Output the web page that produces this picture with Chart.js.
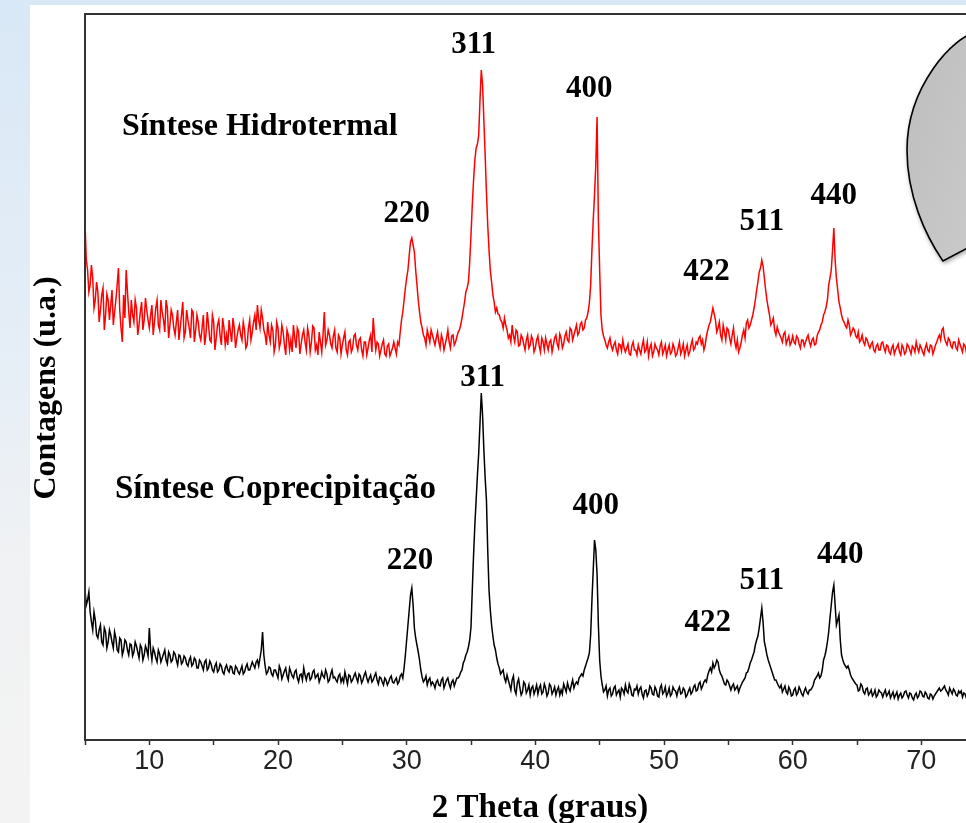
<!DOCTYPE html>
<html>
<head>
<meta charset="utf-8">
<script src="https://cdn.jsdelivr.net/npm/chart.js@4.4.1/dist/chart.umd.min.js"></script>
<style>
  html, body { margin: 0; padding: 0; }
  body {
    width: 966px; height: 823px; overflow: hidden; position: relative;
    background: linear-gradient(to bottom, #d9e8f6 0%, #e6eef6 45%, #f1f2f3 70%, #f3f3f3 100%);
  }
  #panel { position: absolute; left: 30px; top: 5px; width: 960px; height: 830px; background: #fff; }
  #chart { position: absolute; left: 0; top: 0; }
  #bubble { position: absolute; left: 0; top: 0; }
</style>
</head>
<body>
<div id="panel"></div>
<canvas id="chart" width="1070" height="823"></canvas>
<svg id="bubble" width="966" height="823">
  <defs>
    <linearGradient id="g" x1="0" y1="0" x2="1" y2="1">
      <stop offset="0" stop-color="#bdbdbd"/>
      <stop offset="1" stop-color="#cacaca"/>
    </linearGradient>
    <filter id="sh" x="-20%" y="-20%" width="140%" height="140%">
      <feDropShadow dx="1" dy="2" stdDeviation="2" flood-color="#000" flood-opacity="0.35"/>
    </filter>
  </defs>
  <path d="M 975 33 C 955 36, 907 85, 907 150 C 907 195, 925 235, 943 261 L 975 244 Z"
        fill="url(#g)" stroke="#000" stroke-width="1.6" filter="url(#sh)"/>
</svg>

<script>
// 2 theta grid (degrees): 5.0 .. 74.0 in 0.1 steps
const startAngle = 5;
const stepAngle = 0.1;

// counts (a.u.), one row per degree
// *Even: readings at x.0, x.2, x.4, x.6, x.8
// *Odd:  readings at x.1, x.3, x.5, x.7, x.9
const hidrotermalEven = [
  517, 470, 455, 462, 440,
  448, 430, 452, 425, 440,
  435, 415, 440, 472, 412,
  445, 470, 428, 440, 418,
  432, 415, 438, 420, 430,
  412, 435, 418, 440, 410,
  428, 408, 432, 415, 425,
  405, 430, 412, 438, 408,
  420, 402, 428, 410, 418,
  400, 425, 405, 415, 398,
  418, 402, 420, 395, 412,
  405, 420, 398, 412, 402,
  415, 400, 410, 395, 420,
  408, 425, 435, 412, 422,
  405, 418, 398, 410, 395,
  412, 398, 408, 385, 405,
  400, 415, 392, 408, 396,
  410, 390, 405, 398, 412,
  395, 408, 388, 428, 400,
  405, 392, 410, 388, 402,
  395, 408, 385, 400, 392,
  406, 390, 402, 384, 398,
  392, 405, 422, 390, 396,
  390, 400, 384, 396, 388,
  398, 386, 395, 420, 440,
  462, 485, 502, 488, 455,
  428, 412, 402, 410, 398,
  405, 395, 408, 392, 400,
  396, 410, 392, 405, 398,
  408, 415, 430, 448, 458,
  505, 560, 592, 605, 670,
  620, 548, 490, 458, 438,
  432, 425, 418, 422, 410,
  405, 415, 398, 408, 395,
  402, 390, 405, 395, 400,
  392, 404, 388, 398, 402,
  390, 400, 395, 405, 392,
  402, 396, 408, 398, 410,
  405, 415, 408, 418, 412,
  422, 437, 490, 545, 623,
  470, 410, 400, 392, 402,
  390, 398, 386, 395, 400,
  388, 396, 385, 398, 390,
  395, 386, 400, 390, 384,
  396, 388, 392, 385, 398,
  390, 384, 395, 388, 392,
  386, 398, 390, 384, 395,
  388, 400, 392, 396, 404,
  400, 395, 410, 418, 432,
  420, 412, 405, 415, 400,
  410, 396, 412, 392, 388,
  398, 410, 417, 412, 420,
  432, 450, 468, 480, 462,
  440, 425, 418, 410, 413,
  405, 398, 408, 400, 395,
  404, 396, 402, 392, 400,
  398, 405, 394, 402, 396,
  408, 415, 425, 433, 455,
  470, 512, 462, 438, 425,
  418, 412, 415, 408, 410,
  402, 398, 405, 395, 400,
  392, 398, 388, 396, 390,
  398, 388, 394, 386, 395,
  390, 396, 385, 392, 388,
  394, 386, 392, 398, 388,
  392, 385, 396, 388, 394,
  390, 398, 405, 410, 402,
  395, 400, 392, 398, 390,
  396, 388, 394, 390, 395,
  392
];

const hidrotermalOdd = [
  480, 448, 475, 432, 458,
  418, 445, 410, 446, 420,
  450, 428, 455, 430, 398,
  422, 448, 412, 425, 440,
  405, 428, 410, 442, 420,
  425, 405, 432, 415, 440,
  420, 440, 402, 430, 412,
  418, 400, 425, 402, 430,
  412, 430, 398, 425, 405,
  412, 395, 428, 400, 425,
  390, 415, 404, 422, 395,
  395, 408, 422, 392, 410,
  405, 418, 392, 412, 400,
  418, 410, 420, 430, 410,
  395, 405, 415, 388, 418,
  392, 415, 395, 410, 390,
  388, 402, 412, 386, 405,
  398, 412, 388, 414, 390,
  385, 398, 405, 395, 410,
  396, 404, 392, 405, 386,
  402, 390, 398, 388, 404,
  395, 400, 390, 398, 385,
  400, 388, 404, 398, 384,
  396, 386, 394, 384, 392,
  392, 398, 408, 428, 452,
  470, 498, 495, 470, 440,
  418, 405, 395, 404, 410,
  400, 402, 398, 405, 390,
  402, 398, 404, 395, 403,
  410, 422, 438, 452, 478,
  535, 580, 596, 640, 655,
  585, 515, 470, 445, 428,
  426, 420, 412, 415, 402,
  398, 404, 410, 394, 405,
  396, 400, 392, 404, 388,
  400, 394, 402, 390, 396,
  398, 388, 402, 396, 406,
  392, 404, 400, 412, 400,
  410, 405, 416, 410, 420,
  428, 455, 520, 575, 520,
  425, 404, 395, 398, 394,
  395, 390, 396, 389, 392,
  392, 386, 394, 390, 385,
  390, 394, 388, 398, 392,
  384, 396, 390, 394, 386,
  395, 390, 386, 396, 384,
  392, 386, 396, 390, 385,
  395, 390, 398, 402, 396,
  390, 404, 415, 425, 426,
  408, 418, 400, 408, 412,
  402, 405, 398, 400, 392,
  405, 402, 420, 415, 425,
  440, 458, 472, 474, 450,
  432, 415, 422, 405, 408,
  402, 406, 396, 404, 398,
  398, 404, 396, 400, 394,
  402, 398, 400, 395, 404,
  410, 418, 428, 440, 462,
  490, 480, 450, 432, 420,
  414, 420, 405, 412, 404,
  408, 400, 398, 402, 395,
  396, 390, 394, 390, 397,
  392, 395, 388, 392, 386,
  393, 388, 395, 386, 396,
  390, 394, 388, 392, 395,
  388, 392, 390, 395, 386,
  395, 402, 400, 412, 398,
  402, 394, 398, 392, 400,
  392, 396, 388, 398, 390
];

const coprecipitacaoEven = [
  150, 140, 128, 110, 120,
  102, 115, 95, 108, 98,
  105, 92, 102, 88, 100,
  90, 98, 85, 95, 88,
  94, 82, 92, 85, 90,
  112, 80, 88, 78, 86,
  82, 90, 76, 85, 80,
  86, 75, 84, 78, 82,
  74, 83, 76, 80, 72,
  78, 70, 80, 72, 76,
  68, 77, 70, 74, 66,
  75, 68, 73, 66, 72,
  66, 74, 68, 76, 70,
  78, 72, 80, 82, 108,
  74, 68, 72, 64, 70,
  62, 70, 65, 72, 60,
  68, 62, 70, 58, 66,
  72, 60, 67, 62, 70,
  64, 58, 68, 62, 66,
  60, 70, 63, 58, 66,
  62, 68, 56, 64, 60,
  67, 58, 64, 60, 68,
  58, 65, 60, 67, 56,
  62, 55, 60, 58, 64,
  57, 62, 58, 66, 72,
  100, 130, 152, 112, 95,
  80, 63, 60, 55, 62,
  58, 52, 60, 54, 62,
  56, 62, 52, 60, 58,
  62, 68, 77, 85, 93,
  113, 185, 240, 287, 347,
  290, 240, 150, 115, 95,
  82, 72, 68, 62, 65,
  55, 60, 50, 57, 52,
  48, 56, 50, 45, 54,
  50, 46, 55, 48, 52,
  47, 54, 49, 45, 53,
  50, 56, 48, 52, 55,
  52, 58, 62, 66, 70,
  78, 87, 140, 200, 165,
  80, 55, 50, 44, 52,
  46, 54, 48, 43, 50,
  55, 47, 52, 44, 50,
  46, 53, 42, 50, 47,
  52, 45, 50, 43, 55,
  48, 44, 52, 46, 50,
  44, 53, 47, 50, 45,
  52, 48, 55, 50, 58,
  54, 60, 65, 72, 77,
  75, 78, 66, 60, 55,
  58, 50, 56, 52, 48,
  55, 60, 67, 72, 80,
  88, 100, 112, 132, 98,
  85, 76, 68, 60, 57,
  52, 48, 54, 46, 50,
  45, 52, 47, 50, 44,
  52, 46, 50, 55, 62,
  67, 64, 80, 90, 108,
  135, 155, 115, 125, 85,
  76, 72, 70, 62, 58,
  55, 50, 54, 46, 52,
  47, 44, 50, 45, 48,
  43, 50, 46, 42, 48,
  45, 41, 47, 44, 49,
  42, 46, 40, 47, 44,
  48, 43, 46, 41, 45,
  44, 48, 52, 50, 54,
  48, 52, 46, 49, 44,
  47, 43, 46, 44, 48,
  45
];

const coprecipitacaoOdd = [
  135, 148, 118, 128, 105,
  110, 98, 112, 92, 110,
  98, 108, 90, 102, 85,
  100, 90, 96, 84, 98,
  88, 95, 80, 94, 84,
  90, 92, 82, 90, 78,
  86, 80, 88, 78, 88,
  80, 85, 76, 84, 76,
  80, 74, 82, 72, 80,
  74, 78, 70, 79, 70,
  74, 68, 76, 68, 72,
  70, 74, 67, 74, 68,
  70, 66, 73, 70, 74,
  75, 78, 74, 90, 85,
  66, 73, 66, 70, 66,
  74, 61, 69, 64, 72,
  64, 68, 62, 65, 60,
  65, 66, 60, 68, 62,
  66, 62, 64, 70, 58,
  66, 62, 60, 64, 58,
  58, 62, 65, 58, 64,
  62, 66, 57, 65, 62,
  62, 58, 64, 60, 63,
  58, 62, 55, 62, 58,
  60, 56, 64, 62, 85,
  115, 145, 135, 102, 88,
  70, 58, 64, 60, 55,
  56, 58, 55, 60, 52,
  60, 56, 58, 54, 62,
  64, 70, 80, 88, 100,
  150, 215, 265, 317, 325,
  262, 190, 130, 104, 90,
  76, 66, 70, 58, 60,
  50, 64, 46, 61, 45,
  58, 47, 55, 52, 46,
  55, 52, 46, 56, 44,
  56, 46, 53, 50, 45,
  46, 52, 57, 49, 60,
  56, 56, 64, 64, 74,
  82, 105, 170, 190, 115,
  64, 48, 54, 50, 44,
  52, 45, 50, 52, 46,
  49, 56, 45, 51, 54,
  51, 46, 49, 44, 54,
  46, 53, 44, 52, 46,
  53, 47, 44, 53, 49,
  50, 46, 52, 43, 49,
  46, 53, 49, 56, 51,
  58, 58, 69, 68, 72,
  80, 70, 64, 56, 60,
  54, 54, 50, 54, 52,
  58, 62, 68, 77, 84,
  95, 104, 122, 118, 92,
  80, 72, 64, 60, 54,
  55, 51, 48, 53, 44,
  50, 45, 53, 46, 49,
  48, 50, 52, 60, 64,
  62, 70, 84, 98, 122,
  148, 135, 120, 100, 80,
  74, 74, 65, 60, 56,
  49, 56, 48, 51, 45,
  50, 46, 43, 50, 47,
  47, 44, 49, 45, 42,
  48, 45, 42, 48, 45,
  47, 42, 45, 42, 49,
  44, 48, 42, 46, 41,
  46, 50, 49, 52, 50,
  45, 49, 51, 45, 49,
  49, 47, 42, 49, 44
];

// Miller index labels and where they sit (2 theta, counts)
const peakLabels = ['220', '311', '400', '422', '511', '440'];
const hidroLabelX = [30.0, 35.2, 44.2, 53.3, 57.6, 63.2];
const hidroLabelY = [526, 695, 651, 468, 518, 544];
const coprecLabelX = [30.25, 35.9, 44.7, 53.4, 57.6, 63.7];
const coprecLabelY = [179, 362, 234, 117, 159, 185];

// sample names (left edge in 2 theta, baseline in counts)
const sampleNames = ['Síntese Hidrotermal', 'Síntese Coprecipitação'];
const sampleX = [7.87, 7.33];
const sampleY = [605, 242];
const sampleFont = [32, 33];

// put the two reading sets back in angle order
const merge = (even, odd) => {
  const out = [];
  even.forEach((v, i) => {
    out.push(v);
    if (i < odd.length) out.push(odd[i]);
  });
  return out;
};
const hidrotermal = merge(hidrotermalEven, hidrotermalOdd);
const coprecipitacao = merge(coprecipitacaoEven, coprecipitacaoOdd);

const twoTheta = hidrotermal.map((_, i) => +(startAngle + i * stepAngle).toFixed(1));
const toPoints = (values) => values.map((v, i) => ({ x: twoTheta[i], y: v }));

const serif = '"Liberation Serif", "Times New Roman", serif';

// box around the plot area
const framePlugin = {
  id: 'frame',
  afterDatasetsDraw(chart) {
    const { ctx, chartArea } = chart;
    ctx.save();
    ctx.strokeStyle = '#333';
    ctx.lineWidth = 2;
    ctx.strokeRect(chartArea.left, chartArea.top, chartArea.right - chartArea.left, chartArea.bottom - chartArea.top);
    ctx.restore();
  }
};

// peak indices and sample names
const labelsPlugin = {
  id: 'peakLabels',
  afterDatasetsDraw(chart) {
    const { ctx, scales: { x, y } } = chart;
    ctx.save();
    ctx.fillStyle = '#000';
    ctx.font = 'bold 31px ' + serif;
    ctx.textAlign = 'center';
    ctx.textBaseline = 'middle';
    peakLabels.forEach((t, i) => {
      ctx.fillText(t, x.getPixelForValue(hidroLabelX[i]), y.getPixelForValue(hidroLabelY[i]));
      ctx.fillText(t, x.getPixelForValue(coprecLabelX[i]), y.getPixelForValue(coprecLabelY[i]));
    });
    ctx.textAlign = 'left';
    ctx.textBaseline = 'alphabetic';
    sampleNames.forEach((t, i) => {
      ctx.font = 'bold ' + sampleFont[i] + 'px ' + serif;
      ctx.fillText(t, x.getPixelForValue(sampleX[i]), y.getPixelForValue(sampleY[i]));
    });
    ctx.restore();
  }
};

// axis titles: y rotated at the left, x centred under the visible part
const titlesPlugin = {
  id: 'titles',
  afterDraw(chart) {
    const { ctx } = chart;
    ctx.save();
    ctx.fillStyle = '#000';
    ctx.textAlign = 'center';
    ctx.textBaseline = 'middle';
    ctx.font = 'bold 33px ' + serif;
    ctx.fillText('2 Theta (graus)', 540, 808);
    ctx.translate(47, 388);
    ctx.rotate(-Math.PI / 2);
    ctx.font = 'bold 32px ' + serif;
    ctx.fillText('Contagens (u.a.)', 0, 0);
    ctx.restore();
  }
};

const ctx = document.getElementById('chart').getContext('2d');
new Chart(ctx, {
  type: 'line',
  data: {
    datasets: [
      {
        label: 'Síntese Hidrotermal',
        data: toPoints(hidrotermal),
        borderColor: '#ff0000',
        borderWidth: 1.5,
        pointRadius: 0,
        tension: 0,
      },
      {
        label: 'Síntese Coprecipitação',
        data: toPoints(coprecipitacao),
        borderColor: '#000000',
        borderWidth: 1.5,
        pointRadius: 0,
        tension: 0,
      },
    ],
  },
  options: {
    responsive: false,
    animation: false,
    devicePixelRatio: 1,
    layout: { padding: { left: 85, top: 14, right: 20, bottom: 0 } },
    plugins: {
      legend: { display: false },
      tooltip: { enabled: false },
    },
    scales: {
      x: {
        type: 'linear',
        min: 5,
        max: 80,
        afterFit: (axis) => { axis.height = 83; },
        ticks: {
          stepSize: 5,
          padding: 0,
          color: '#222',
          font: { family: '"Liberation Sans", Arial, sans-serif', size: 27 },
          callback: (v) => (v % 10 === 0 ? v : ''),
        },
        grid: {
          drawOnChartArea: false,
          drawTicks: true,
          tickLength: 5,
          tickColor: '#333',
          tickWidth: 1.5,
        },
        border: { color: '#333', width: 2 },
        title: { display: false },
      },
      y: {
        display: false,
        min: 0,
        max: 726,
      },
    },
  },
  plugins: [framePlugin, labelsPlugin, titlesPlugin],
});
</script>
</body>
</html>
